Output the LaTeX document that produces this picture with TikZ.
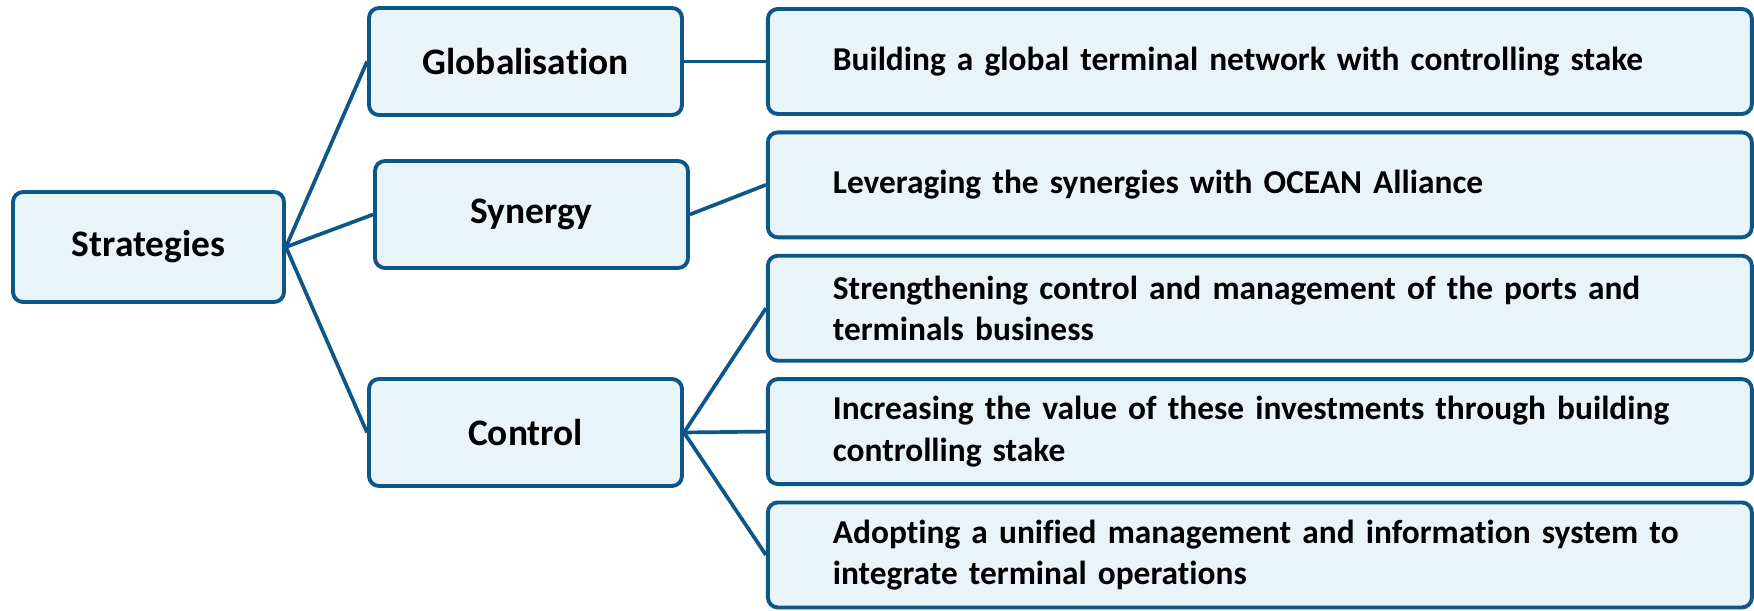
\documentclass[tikz,border=0pt]{standalone}
\usepackage{fontspec}
\setmainfont{Carlito}[Ligatures=NoCommon]
\usetikzlibrary{positioning}

\definecolor{strokeblue}{RGB}{12,86,138}
\definecolor{paleblue}{RGB}{232,244,248}

\begin{document}
\begin{tikzpicture}[
    root/.style={rectangle, draw=strokeblue, line width=2.2pt, rounded corners=0.2cm, fill=paleblue, minimum width=5.42cm, minimum height=2.2cm, align=center, font=\fontsize{21.3}{25}\selectfont\bfseries},
    branch/.style={rectangle, draw=strokeblue, line width=2.2pt, rounded corners=0.2cm, fill=paleblue, minimum width=6.26cm, minimum height=2.14cm, align=center, font=\fontsize{21.3}{25}\selectfont\bfseries},
    detail/.style={rectangle, draw=strokeblue, line width=2.2pt, rounded corners=0.2cm, fill=paleblue, text width=17.08cm, inner xsep=1.3cm, minimum height=2.1cm, align=left, font=\fontsize{19}{23.5}\selectfont\bfseries},
    link/.style={draw=strokeblue, line width=2.1pt}
]
\useasboundingbox (0,0) rectangle (35.08,12.22);

% Root
\node[root] (strat) at (2.97,7.28) {Strategies};

% Strategy branches
\node[branch] (glob) at (10.51,10.99) {Globalisation};
\node[branch] (syn) at (10.63,7.93) {Synergy};
\node[branch] (ctrl) at (10.51,3.57) {Control};

% Details
\node[detail, right=1.64cm of glob] (network) {Building a global terminal network with controlling stake};
\node[detail, below=0.29cm of network] (alliance) {Leveraging the synergies with OCEAN Alliance};
\node[detail, below=0.29cm of alliance] (business) {Strengthening control and management of the ports and\\terminals business};
\node[detail, below=0.29cm of business] (invest) {Increasing the value of these investments through building\\controlling stake};
\node[detail, below=0.29cm of invest] (system) {Adopting a unified management and information system to\\integrate terminal operations};

% Root to branches
\draw[link] (strat.east) -- (glob.west);
\draw[link] (strat.east) -- (syn.west);
\draw[link] (strat.east) -- (ctrl.west);

% Branches to details
\draw[link] (glob.east) -- (network.west);
\draw[link] (syn.east) -- (alliance.west);
\draw[link] (ctrl.east) -- (business.west);
\draw[link] (ctrl.east) -- (invest.west);
\draw[link] (ctrl.east) -- (system.west);

\end{tikzpicture}
\end{document}
